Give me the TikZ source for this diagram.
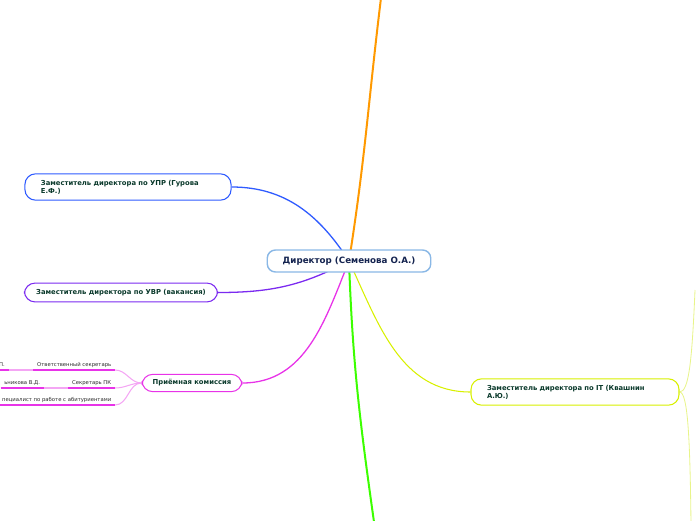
\documentclass[tikz,border=0pt]{standalone}
\usepackage{fontspec}
\setmainfont{DejaVu Sans}
\usetikzlibrary{positioning,backgrounds}
\definecolor{rootline}{HTML}{8AB8E6}
\definecolor{roottext}{HTML}{14234F}
\definecolor{nodetext}{HTML}{0B3A2C}
\definecolor{leaftext}{HTML}{2A2A2A}
\definecolor{topline}{HTML}{FF9900}
\definecolor{downline}{HTML}{3CFF00}
\definecolor{itline}{HTML}{D8F000}
\definecolor{itpale}{HTML}{E8F48A}
\definecolor{uprline}{HTML}{2F5BFF}
\definecolor{uvrline}{HTML}{7B2AF0}
\definecolor{pkline}{HTML}{E833E8}
\definecolor{pkpale}{HTML}{F4A6F4}

\begin{document}
\begin{tikzpicture}[
 x=0.85pt,y=-0.85pt,
 node distance=21pt,
 every node/.style={align=left},
 root/.style={draw=rootline,line width=1.2pt,fill=white,rounded corners=7pt,
   font=\fontsize{7.4}{8.8}\selectfont\bfseries,text=roottext,
   minimum width=139pt,minimum height=18.7pt,align=center},
 branch/.style={draw=#1,line width=0.9pt,fill=white,rounded corners=9pt,
   font=\fontsize{5.8}{6.8}\selectfont\bfseries,text=nodetext,
   inner xsep=13.6pt,inner ysep=5.2pt},
 leaf/.style={font=\fontsize{4.5}{5.4}\selectfont,text=leaftext,
   inner xsep=3pt,inner ysep=1.5pt,text height=3.4pt,text depth=1pt},
 link/.style={draw=#1,line width=1.1pt},
 uline/.style={draw=#1,line width=1.6pt}
]
 \useasboundingbox (0,0) rectangle (696,520);
 \clip (0,0) rectangle (696,520);

 % main nodes
 \node[root] (dir) at (349,261) {Директор (Семенова О.А.)};
 \node[branch=uprline,text width=148pt] (upr) at (128,187)
   {Заместитель директора по УПР (Гурова\\Е.Ф.)};
 \node[branch=uvrline,inner xsep=10pt] (uvr) at (121,292.5)
   {Заместитель директора по УВР (вакансия)};
 \node[branch=itline,text width=149.6pt] (it) at (575,392)
   {Заместитель директора по IT (Квашнин\\А.Ю.)};
 \node[branch=pkline,inner xsep=9pt,inner ysep=4.5pt] (pk) at (192,383)
   {Приёмная комиссия};

 % ends that run off the page
 \coordinate (topend) at (381,-2);
 \coordinate (botend) at (374,522);
 \coordinate (itup) at (695,290);
 \coordinate (itdown) at (691,524);

 % leaves of the admission board
 \node[leaf,anchor=south east] (sec) at (115,370) {Ответственный секретарь};
 \node[leaf,left=of sec] (secA) {П.};
 \node[leaf,anchor=south east] (spk) at (115,388) {Секретарь ПК};
 \node[leaf,left=of spk] (spkA) {ьникова В.Д.};
 \node[leaf,anchor=south east] (spec) at (115,405) {пециалист по работе с абитуриентами};

 \foreach \n in {sec,secA,spk,spkA,spec}
   \draw[uline=pkline] (\n.south west) -- (\n.south east);
 \draw[uline=pkpale] (sec.south west) -- (secA.south east);
 \draw[uline=pkpale] (spk.south west) -- (spkA.south east);

 \begin{scope}[on background layer]
  \draw[link=topline,line width=1.7pt] (dir.center) to[out=81,in=-97] (topend);
  \draw[link=downline,line width=1.7pt] (dir.center) to[out=-88,in=98] (botend);
  \draw[link=itline,line width=0.9pt] (dir.center) to[out=-65,in=180] (it.west);
  \draw[link=uprline] (dir.center) to[out=123,in=0] (upr.east);
  \draw[link=uvrline] (dir.center) to[out=-152,in=0] (uvr.east);
  \draw[link=pkline] (dir.center) to[out=-112,in=0] (pk.east);
  \draw[link=itpale,line width=0.7pt] (it.east) .. controls (689,392) and (692,360) .. (itup);
  \draw[link=itpale,line width=0.7pt] (it.east) .. controls (688,392) and (690,440) .. (itdown);
  \draw[link=pkpale,line width=0.9pt] (pk.west) to[out=180,in=0] (sec.south east);
  \draw[link=pkpale,line width=0.9pt] (pk.west) to[out=180,in=0] (spk.south east);
  \draw[link=pkpale,line width=0.9pt] (pk.west) to[out=180,in=0] (spec.south east);
 \end{scope}
\end{tikzpicture}
\end{document}
